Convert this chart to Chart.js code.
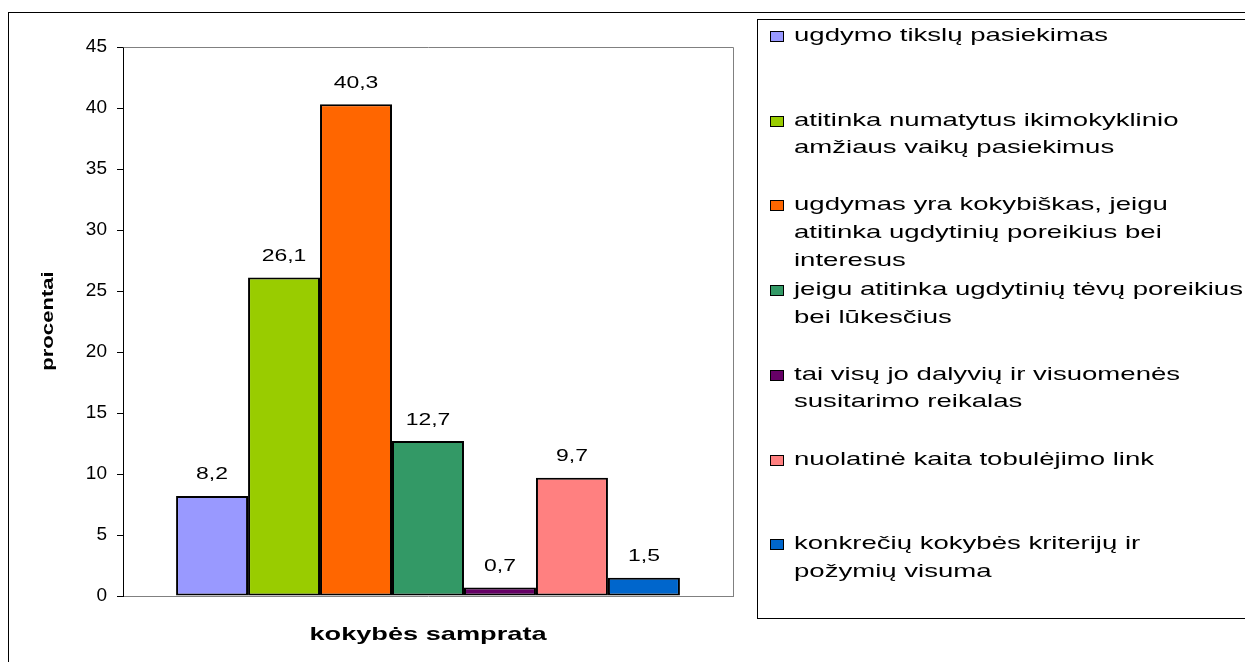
<!DOCTYPE html>
<html>
<head>
<meta charset="utf-8">
<script src="https://cdn.jsdelivr.net/npm/chart.js@4"></script>
<style>
  html, body { margin: 0; padding: 0; background: #fff; overflow: hidden; }
  #wrap { width: 1245px; height: 662px; position: relative; }
</style>
</head>
<body>
<div id="wrap"><canvas id="chart"></canvas></div>
<script>
// chart data
const categories = ['kokybės samprata'];
const seriesLabels = [
    ['ugdymo tikslų pasiekimas'],
    ['atitinka numatytus ikimokyklinio', 'amžiaus vaikų pasiekimus'],
    ['ugdymas yra kokybiškas, jeigu', 'atitinka ugdytinių poreikius bei', 'interesus'],
    ['jeigu atitinka ugdytinių tėvų poreikius', 'bei lūkesčius'],
    ['tai visų jo dalyvių ir visuomenės', 'susitarimo reikalas'],
    ['nuolatinė kaita tobulėjimo link'],
    ['konkrečių kokybės kriterijų ir', 'požymių visuma']
];
const seriesValues = [8.2, 26.1, 40.3, 12.7, 0.7, 9.7, 1.5];
const seriesColors = ['#9999FF', '#99CC00', '#FF6600', '#339966', '#660066', '#FF8080', '#0066CC'];
const yTicks = [0, 5, 10, 15, 20, 25, 30, 35, 40, 45];
const yTitle = 'procentai';

const FONT = '"Liberation Sans", Arial, sans-serif';
Chart.defaults.font.family = FONT;
Chart.defaults.color = '#000';

// text in the original is drawn wide, so stretch it horizontally
function wideText(ctx, text, x, y, sx, align) {
    ctx.save();
    ctx.translate(x, y);
    ctx.scale(sx, 1);
    ctx.textAlign = align || 'left';
    ctx.fillText(text, 0, 0);
    ctx.restore();
}

const decorations = {
    id: 'decorations',
    beforeDraw(chart) {
        const ctx = chart.ctx;
        ctx.save();
        ctx.strokeStyle = '#000';
        ctx.lineWidth = 1;
        // outer frame
        ctx.strokeRect(8.5, 12.5, 1300, 700);
        // legend box
        ctx.strokeRect(757.5, 19.5, 600, 599);
        ctx.restore();
    },
    afterDatasetsDraw(chart) {
        const ctx = chart.ctx;
        ctx.save();
        ctx.fillStyle = '#000';
        ctx.font = '17px ' + FONT;
        ctx.textBaseline = 'alphabetic';
        chart.data.datasets.forEach((ds, i) => {
            const bar = chart.getDatasetMeta(i).data[0];
            const txt = String(ds.data[0]).replace('.', ',');
            wideText(ctx, txt, bar.x, bar.y - 16.5, 1.35, 'center');
        });
        ctx.restore();
    },
    afterDraw(chart) {
        const ctx = chart.ctx;
        const a = chart.chartArea;
        ctx.save();
        // plot area border (top + right)
        ctx.strokeStyle = '#808080';
        ctx.lineWidth = 1;
        ctx.beginPath();
        ctx.moveTo(Math.round(a.left) + 0.5, Math.round(a.top) + 0.5);
        ctx.lineTo(Math.round(a.right) + 0.5, Math.round(a.top) + 0.5);
        ctx.lineTo(Math.round(a.right) + 0.5, Math.round(a.bottom) + 0.5);
        ctx.stroke();

        ctx.fillStyle = '#000';
        // x title
        ctx.font = 'bold 19px ' + FONT;
        ctx.textBaseline = 'alphabetic';
        wideText(ctx, categories[0], (a.left + a.right) / 2, 640, 1.43, 'center');

        // y title
        ctx.save();
        ctx.translate(48, 321);
        ctx.rotate(-Math.PI / 2);
        ctx.font = 'bold 17px ' + FONT;
        ctx.textBaseline = 'middle';
        wideText(ctx, yTitle, 0, 0, 1.3, 'center');
        ctx.restore();

        // legend
        ctx.font = '18.5px ' + FONT;
        ctx.textBaseline = 'middle';
        seriesLabels.forEach((lines, i) => {
            const y0 = 36 + i * 84.7;
            ctx.fillStyle = seriesColors[i];
            ctx.fillRect(770, Math.round(y0 - 5), 14, 11);
            ctx.strokeStyle = '#000';
            ctx.strokeRect(770.5, Math.round(y0 - 5) + 0.5, 13, 10);
            ctx.fillStyle = '#000';
            lines.forEach((line, j) => {
                wideText(ctx, line, 794, y0 + j * 27.6, 1.49, 'left');
            });
        });
        ctx.restore();
    }
};

const ctx = document.getElementById('chart').getContext('2d');
const chart = new Chart(ctx, {
    type: 'bar',
    data: {
        labels: categories,
        datasets: seriesLabels.map((lines, i) => ({
            label: lines.join(' '),
            data: [seriesValues[i]],
            backgroundColor: seriesColors[i],
            borderColor: '#000',
            borderWidth: 2,
            borderSkipped: false,
            categoryPercentage: 0.826,
            barPercentage: 1
        }))
    },
    options: {
        responsive: true,
        maintainAspectRatio: false,
        animation: false,
        layout: { padding: { left: 0, top: 47, right: 512, bottom: 66 } },
        plugins: {
            legend: { display: false },
            tooltip: { enabled: false }
        },
        scales: {
            x: {
                ticks: { display: false },
                grid: { display: false },
                border: { color: '#808080', width: 1 },
                afterFit(scale) { scale.height = 0; }
            },
            y: {
                min: 0,
                max: 45,
                afterBuildTicks(scale) { scale.ticks = yTicks.map(v => ({ value: v })); },
                ticks: { font: { size: 19 }, color: '#000', padding: 10 },
                grid: { drawOnChartArea: false, drawTicks: true, tickLength: 6, color: '#000' },
                border: { color: '#000', width: 1 },
                afterFit(scale) { scale.width = 123; }
            }
        }
    },
    plugins: [decorations]
});
</script>
</body>
</html>
